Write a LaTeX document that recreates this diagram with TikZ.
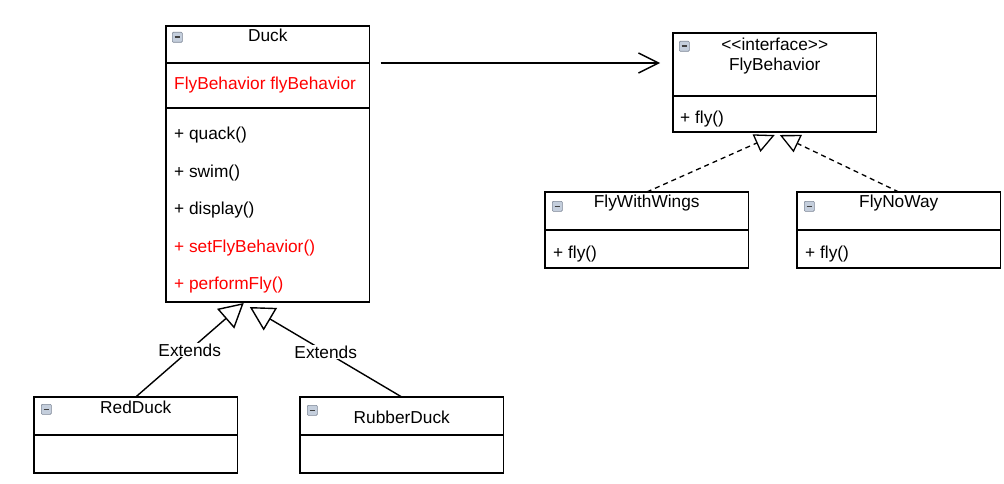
\documentclass[tikz,border=0pt]{standalone}
\usepackage{fontspec}
\setmainfont{Liberation Sans}
\usetikzlibrary{arrows.meta}
\definecolor{iconfill}{RGB}{196,206,220}
\definecolor{iconline}{RGB}{125,135,150}

\begin{document}
\begin{tikzpicture}[x=1pt, y=-1pt,
  every node/.style={font=\fontsize{17.3}{20}\selectfont},
  part/.style={draw, line width=1.3pt, rectangle, inner sep=0pt, outer sep=0pt, anchor=north west,
    minimum width=203.5pt, minimum height=#1},
  ttl/.style={anchor=base, inner sep=0pt},
  member/.style={anchor=west, inner sep=0pt},
  icon/.style={draw=iconline, fill=iconfill, line width=0.6pt, rounded corners=1pt,
    minimum size=10pt, inner sep=0pt, anchor=north west,
    path picture={\path[draw, black!75, line width=1.6pt]
      ([xshift=2.2pt]path picture bounding box.west) -- ([xshift=-2.2pt]path picture bounding box.east);}},
  assoc/.style={draw, line width=1.4pt, -{Straight Barb[length=20pt, width=20pt]}},
  realize/.style={draw, line width=1.3pt, dash pattern=on 5pt off 4pt,
    -{Triangle[open, length=20pt, width=19pt]}},
  extend/.style={draw, line width=1.4pt, -{Triangle[open, length=24pt, width=26pt]}},
  lbl/.style={fill=white, inner sep=1pt}
]
\path[fill=white] (0,0) rectangle (1004,484);
\useasboundingbox (0,0) rectangle (1004,484);

\node[part=37pt] (duckT) at (166,26) {};
\node[part=45pt] (duckA) at (duckT.south west) {};
\node[part=194pt] (duckM) at (duckA.south west) {};
\node[icon] (duckI) at ([shift={(6,6)}]duckT.north west) {};
\node[ttl] (duckN) at ([yshift=-16pt]duckT.north) {Duck};
\node[member, text=red] (duckF) at ([xshift=8pt]duckA.west) {FlyBehavior flyBehavior};
\foreach \txt/\col [count=\i] in {quack()/black, swim()/black, display()/black,
    setFlyBehavior()/red, performFly()/red}
  \node[member, text=\col] (duckm\i) at ([shift={(8,{27.5+37.5*(\i-1)})}]duckM.north west) {+ \txt};

\node[part=63pt] (fbT) at (673,33) {};
\node[part=36pt] (fbM) at (fbT.south west) {};
\node[icon] (fbI) at ([shift={(6,8)}]fbT.north west) {};
\node[ttl] (fbS) at ([yshift=-18pt]fbT.north) {<\kern0pt<interface>\kern0pt>};
\node[ttl] (fbN) at ([yshift=-38pt]fbT.north) {FlyBehavior};
\node[member] (fbm) at ([xshift=7pt,yshift=-5pt]fbM.west) {+ fly()};

\node[part=38pt] (fwwT) at (545,192) {};
\node[part=38pt] (fwwM) at (fwwT.south west) {};
\node[icon] (fwwI) at ([shift={(7,9)}]fwwT.north west) {};
\node[ttl] (fwwN) at ([yshift=-15.5pt]fwwT.north) {FlyWithWings};
\node[member] (fwwm) at ([xshift=8pt,yshift=-5pt]fwwM.west) {+ fly()};

\node[part=38pt] (fnwT) at (797,192) {};
\node[part=38pt] (fnwM) at (fnwT.south west) {};
\node[icon] (fnwI) at ([shift={(7,9)}]fnwT.north west) {};
\node[ttl] (fnwN) at ([yshift=-15.5pt]fnwT.north) {FlyNoWay};
\node[member] (fnwm) at ([xshift=8pt,yshift=-5pt]fnwM.west) {+ fly()};

\node[part=38pt] (rdT) at (34,397) {};
\node[part=38pt] (rdM) at (rdT.south west) {};
\node[icon] (rdI) at ([shift={(7,7)}]rdT.north west) {};
\node[ttl] (rdN) at ([yshift=-16pt]rdT.north) {RedDuck};

\node[part=38pt] (rbdT) at (300,397) {};
\node[part=38pt] (rbdM) at (rbdT.south west) {};
\node[icon] (rbdI) at ([shift={(7,8)}]rbdT.north west) {};
\node[ttl] (rbdN) at ([yshift=-26pt]rbdT.north) {RubberDuck};

\path[assoc, shorten <=11pt, shorten >=13pt] (duckT.south east) -- (duckT.south east -| fbT.west);
\path[realize] (fwwT.north) -- ([yshift=-3pt]fbM.south);
\path[realize] (fnwT.north) -- ([xshift=5pt,yshift=-3pt]fbM.south);
\path[extend] (rdT.north) -- node[lbl] (rdL) {Extends} ([xshift=-24pt,yshift=-1pt]duckM.south);
\path[extend] (rbdT.north) -- node[lbl] (rbdL) {Extends} ([xshift=-18pt,yshift=-5pt]duckM.south);
\end{tikzpicture}
\end{document}
